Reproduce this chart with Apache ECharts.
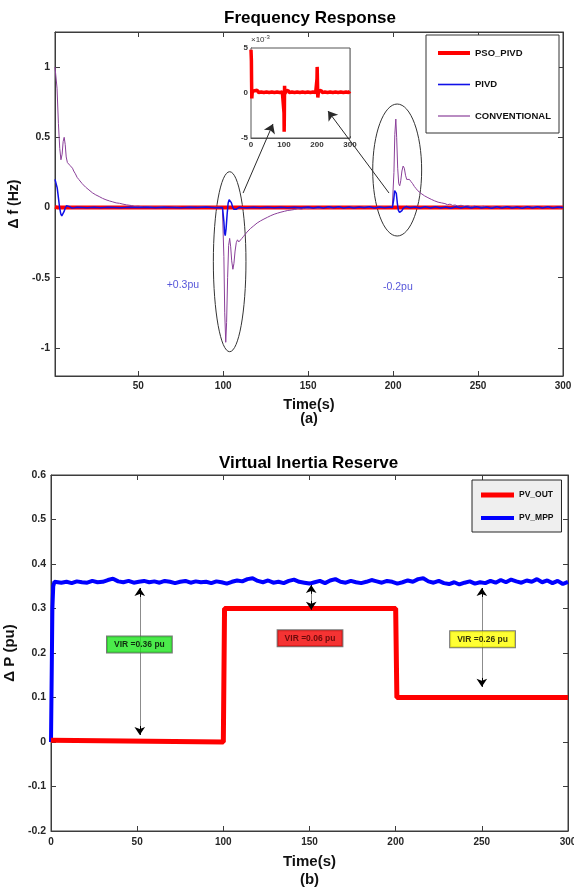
<!DOCTYPE html>
<html>
<head>
<meta charset="utf-8">
<script src="https://cdn.jsdelivr.net/npm/echarts@6/dist/echarts.min.js"></script>
<style>
  html, body { margin: 0; padding: 0; background: #fff; }
  #main { width: 574px; height: 888px; }
</style>
</head>
<body>
<div id="main"></div>
<script>
const FONT = 'Liberation Sans, Arial, sans-serif'
const AX = '#3c3c3c'

// ---- (a) Frequency Response ----
const freqTicksX = [50, 100, 150, 200, 250, 300]
const freqTicksY = [-1, -0.5, 0, 0.5, 1]

const conventional = [
  [1, 1.0], [1.5, 1.01], [2.2, 0.85], [3, 0.6], [3.8, 0.42], [4.5, 0.34], [5.2, 0.38], [5.8, 0.47], [6.4, 0.5], [7, 0.45],
  [7.6, 0.36], [8.3, 0.32], [9, 0.31], [9.8, 0.3], [10.5, 0.31], [11.3, 0.28], [12, 0.26], [13, 0.24], [14, 0.215], [15, 0.2],
  [16, 0.19], [17, 0.17], [18, 0.16], [19, 0.145], [20, 0.135], [21, 0.125], [22, 0.115], [23, 0.105], [24, 0.1], [25, 0.09],
  [26, 0.085], [27, 0.078], [28, 0.07], [29, 0.065], [30, 0.06], [31, 0.055], [32, 0.05], [33, 0.047], [34, 0.042], [35, 0.04],
  [36, 0.035], [37, 0.033], [38, 0.028], [39, 0.03], [40, 0.022], [41, 0.024], [42, 0.017], [43, 0.019], [44, 0.012], [46, 0.014],
  [48, 0.008], [50, 0.01], [53, 0.004], [56, 0.007], [60, 0.002], [64, 0.006], [68, 0.001], [72, 0.005], [76, 0.0], [80, 0.004],
  [84, 0.001], [88, 0.005], [92, 0.0], [96, 0.003], [99.5, 0.001],
  [100, 0], [100.4, -0.35], [100.9, -0.75], [101.5, -0.96], [102, -0.82], [102.6, -0.5], [103.2, -0.27], [103.8, -0.22], [104.4, -0.28], [105, -0.38],
  [105.7, -0.44], [106.3, -0.4], [107, -0.31], [107.7, -0.25], [108.4, -0.23], [109.2, -0.245], [110, -0.235], [111, -0.22], [112, -0.205], [113, -0.19],
  [114, -0.175], [115, -0.165], [116, -0.15], [117, -0.143], [118, -0.13], [119, -0.122], [120, -0.11], [121, -0.105], [122, -0.095], [123, -0.09],
  [124, -0.082], [125, -0.076], [126, -0.07], [127, -0.062], [128, -0.058], [129, -0.052], [130, -0.048], [131, -0.043], [132, -0.04], [133, -0.035],
  [134, -0.033], [135, -0.028], [136, -0.027], [137, -0.022], [138, -0.021], [139, -0.016], [140, -0.018], [141, -0.012], [142, -0.014], [144, -0.008],
  [146, -0.011], [148, -0.005], [150, -0.008], [153, -0.002], [156, -0.006], [160, 0.001], [164, -0.004], [168, 0.003], [172, -0.002], [176, 0.004],
  [180, 0.0], [184, 0.005], [188, -0.002], [192, 0.004], [196, 0.0], [199.5, 0.002],
  [200, 0], [200.5, 0.25], [201, 0.52], [201.6, 0.63], [202.1, 0.5], [202.7, 0.28], [203.3, 0.17], [203.9, 0.155], [204.5, 0.19], [205.2, 0.26],
  [205.9, 0.295], [206.6, 0.28], [207.3, 0.23], [208, 0.2], [208.8, 0.19], [209.6, 0.2], [210.5, 0.185], [211.5, 0.17], [212.5, 0.15], [213.5, 0.135],
  [214.5, 0.12], [215.5, 0.11], [216.5, 0.1], [217.5, 0.09], [218.5, 0.083], [219.5, 0.075], [220.5, 0.07], [221.5, 0.062], [222.5, 0.058], [223.5, 0.05],
  [224.5, 0.047], [225.5, 0.04], [226.5, 0.038], [227.5, 0.032], [228.5, 0.033], [229.5, 0.026], [230.5, 0.028], [232, 0.02], [233.5, 0.024], [235, 0.015],
  [236.5, 0.018], [238, 0.011], [240, 0.016], [242, 0.008], [244, 0.013], [246, 0.004], [248, 0.01], [250, 0.002], [253, 0.009], [256, 0.0],
  [259, 0.006], [262, -0.002], [265, 0.007], [268, 0.0], [271, 0.006], [274, -0.003], [277, 0.005], [280, 0.0], [283, 0.007], [286, -0.003],
  [289, 0.005], [292, -0.002], [295, 0.004], [298, -0.004], [300, 0.0]
]

const pivd = [
  [1, 0.2], [1.6, 0.195], [2.3, 0.14], [3, 0.07], [3.7, 0.0], [4.4, -0.045], [5, -0.06], [5.6, -0.055], [6.3, -0.03], [7, -0.005],
  [7.7, 0.012], [8.4, 0.015], [9.2, 0.008], [10, 0.0], [11, -0.004], [12.5, -0.002], [14, 0.002], [17, 0.0], [20, -0.002], [24, 0.002],
  [28, -0.001], [32, 0.002], [36, 0.0], [40, -0.002], [45, 0.002], [50, 0.0], [55, 0.002], [60, -0.002], [65, 0.002], [70, 0.0],
  [75, -0.002], [80, 0.002], [85, 0.0], [90, 0.003], [95, -0.001], [99.6, 0.0],
  [100, 0], [100.4, -0.1], [100.8, -0.18], [101.2, -0.2], [101.7, -0.15], [102.3, -0.05], [102.9, 0.03], [103.5, 0.055], [104.1, 0.057], [104.8, 0.035],
  [105.5, 0.005], [106.2, -0.012], [107, -0.018], [107.8, -0.012], [108.6, -0.003], [109.5, 0.002], [111, 0.0], [114, -0.002], [118, 0.002], [122, -0.001],
  [126, 0.002], [130, -0.002], [134, 0.001], [138, -0.002], [142, 0.002], [146, -0.001], [150, 0.003], [153, -0.004], [156, 0.004], [159, -0.003],
  [162, 0.005], [165, -0.002], [168, 0.006], [171, -0.003], [174, 0.004], [177, -0.004], [180, 0.003], [183, -0.002], [186, 0.005], [189, -0.003],
  [192, 0.004], [195, -0.002], [198, 0.003], [199.6, 0.0],
  [200, 0], [200.4, 0.06], [200.9, 0.12], [201.4, 0.13], [201.9, 0.1], [202.5, 0.03], [203.1, -0.02], [203.8, -0.035], [204.5, -0.036], [205.2, -0.022],
  [206, -0.005], [206.8, 0.006], [207.6, 0.007], [208.5, 0.002], [210, -0.002], [213, 0.003], [216, -0.004], [219, 0.005], [222, -0.003], [225, 0.006],
  [228, -0.004], [231, 0.004], [234, -0.005], [237, 0.006], [240, -0.003], [243, 0.005], [246, -0.004], [249, 0.006], [252, -0.003], [255, 0.004],
  [258, -0.005], [261, 0.005], [264, -0.003], [267, 0.006], [270, -0.004], [273, 0.004], [276, -0.005], [279, 0.005], [282, -0.003], [285, 0.006],
  [288, -0.004], [291, 0.005], [294, -0.003], [297, 0.004], [300, 0.0]
]

const psoPivd = [
  [1, 0.0045], [1.8, 0.004], [2.6, -0.0005], [4, 0.0002], [99.8, 0.0001], [100.2, -0.0043], [100.8, 0.0008], [101.5, 0.0002],
  [199.8, 0.0001], [200.3, 0.003], [201, -0.0004], [202, 0.0002], [300, 0.0001]
]

// inset, values in 1e-3 Hz
const psoZoom = [
  [0, 4.8], [0.6, 4.6], [1.2, 3.6], [1.8, 1.2], [2.4, -0.6], [3.2, -0.4], [4, 0.2], [7, 0.05], [11, 0.25], [15, 0.1],
  [19, 0.3], [23, 0.05], [27, 0.2], [31, 0.1], [35, 0.3], [39, 0.05], [43, 0.25], [47, 0.1], [51, 0.3], [55, 0.05],
  [59, 0.2], [63, 0.1], [67, 0.3], [71, 0.05], [75, 0.25], [79, 0.1], [83, 0.3], [87, 0.05], [91, 0.2], [95, 0.1],
  [99.4, 0.15], [100, -2.2], [100.5, -4.3], [101.1, -2.4], [101.7, 0.8], [102.4, 0.7], [103.2, -0.1], [104.5, 0.2], [108, 0.1], [112, 0.3],
  [116, 0.05], [120, 0.25], [124, 0.1], [128, 0.3], [132, 0.05], [136, 0.2], [140, 0.1], [144, 0.3], [148, 0.05], [152, 0.25],
  [156, 0.1], [160, 0.3], [164, 0.05], [168, 0.2], [172, 0.1], [176, 0.3], [180, 0.05], [184, 0.25], [188, 0.1], [192, 0.3],
  [196, 0.05], [199.4, 0.15], [200, 1.6], [200.5, 2.9], [201.2, 2.8], [201.8, 0.6], [202.5, -0.5], [203.3, -0.3], [204.5, 0.2], [208, 0.1],
  [212, 0.3], [216, 0.05], [220, 0.25], [224, 0.1], [228, 0.3], [232, 0.05], [236, 0.2], [240, 0.1], [244, 0.3], [248, 0.05],
  [252, 0.25], [256, 0.1], [260, 0.3], [264, 0.05], [268, 0.2], [272, 0.1], [276, 0.3], [280, 0.05], [284, 0.25], [288, 0.1],
  [292, 0.3], [296, 0.05], [300, 0.2]
]

// ellipses: centre t, centre v, half width (s), half height (Hz)
const circles = [[103.8, -0.386, 9.6, 0.641], [202.4, 0.267, 14.4, 0.47]]
const zoomArrows = [[[111.7, 0.103], [129.3, 0.595]], [[197.6, 0.103], [161.7, 0.687]]]
const stepNotes = [['+0.3pu', 76.3, -0.552], ['-0.2pu', 202.8, -0.568]]

// ---- (b) Virtual Inertia Reserve ----
const pvOut = [[0, 0.004], [100, 0.0], [100.7, 0.3], [200, 0.3], [200.7, 0.1], [300, 0.1]]
const pvMpp = [
  [0, 0], [0.4, 0.15], [0.8, 0.3], [1.3, 0.35], [2, 0.36],
  [3, 0.361], [6, 0.358], [9, 0.36], [12, 0.357], [15, 0.361], [18, 0.359], [21, 0.358], [24, 0.362], [27, 0.359], [30, 0.36],
  [33, 0.364], [36, 0.367], [39, 0.361], [42, 0.359], [45, 0.362], [48, 0.358], [51, 0.36], [54, 0.362], [57, 0.359], [60, 0.361],
  [63, 0.358], [66, 0.362], [69, 0.36], [72, 0.357], [75, 0.36], [78, 0.362], [81, 0.358], [84, 0.361], [87, 0.359], [90, 0.36],
  [93, 0.357], [96, 0.361], [99, 0.359], [102, 0.356], [105, 0.36], [108, 0.363], [111, 0.361], [114, 0.366], [117, 0.368], [120, 0.362],
  [123, 0.359], [126, 0.363], [129, 0.358], [132, 0.36], [135, 0.357], [138, 0.362], [141, 0.365], [144, 0.36], [147, 0.358], [150, 0.356],
  [153, 0.359], [156, 0.362], [159, 0.357], [162, 0.363], [165, 0.366], [168, 0.36], [171, 0.358], [174, 0.362], [177, 0.359], [180, 0.357],
  [183, 0.36], [186, 0.364], [189, 0.361], [192, 0.358], [195, 0.362], [198, 0.36], [201, 0.356], [204, 0.359], [207, 0.363], [210, 0.36],
  [213, 0.366], [216, 0.368], [219, 0.361], [222, 0.358], [225, 0.362], [228, 0.357], [231, 0.355], [234, 0.359], [237, 0.354], [240, 0.358],
  [243, 0.361], [246, 0.356], [249, 0.359], [252, 0.357], [255, 0.362], [258, 0.358], [261, 0.364], [264, 0.359], [267, 0.365], [270, 0.361],
  [273, 0.358], [276, 0.363], [279, 0.36], [282, 0.366], [285, 0.359], [288, 0.363], [291, 0.357], [294, 0.362], [297, 0.355], [300, 0.36]
]
// arrow: t, upper tip, lower tip
const virArrows = [[51.5, 0.346, 0.016], [151, 0.353, 0.297], [250, 0.346, 0.124]]
const virNotes = [['VIR =0.36 pu', 51.3, 0.219], ['VIR =0.06 pu', 150.3, 0.233], ['VIR =0.26 pu', 250.4, 0.231]]
const virFill = ['#1ee61e', '#f20000', '#ffff00']
const virText = ['#000', '#4a0000', '#000']

const chart = echarts.init(document.getElementById('main'))

const lbl = (size, extra) => Object.assign({ fontFamily: FONT, fontSize: size, fontWeight: 'bold', color: '#262626' }, extra || {})

function xAx(grid, pos, opt) {
  return Object.assign({
    gridIndex: grid, type: 'value', position: pos,
    axisLine: { show: true, onZero: false, lineStyle: { color: AX } },
    axisTick: { show: true, inside: true, length: 5, lineStyle: { color: AX } },
    axisLabel: { show: false },
    splitLine: { show: false }
  }, opt)
}

// arrow heads black, shafts grey
const virMarks = []
virArrows.forEach(([t, hi, lo]) => {
  virMarks.push([{ coord: [t, hi], lineStyle: { color: '#8c8c8c', width: 1, type: 'solid' } }, { coord: [t, lo] }])
  virMarks.push([{ coord: [t, hi - 0.02], lineStyle: { color: '#000', width: 1, type: 'solid' } }, { coord: [t, hi], symbol: 'arrow' }])
  virMarks.push([{ coord: [t, lo + 0.02], lineStyle: { color: '#000', width: 1, type: 'solid' } }, { coord: [t, lo], symbol: 'arrow' }])
})

chart.setOption({
  animation: false,
  title: [
    { text: 'Frequency Response', left: 224, top: 10, padding: 0, textStyle: { fontFamily: FONT, fontSize: 17, fontWeight: 'bold', color: '#000' } },
    { text: 'Virtual Inertia Reserve', left: 219, top: 455, padding: 0, textStyle: { fontFamily: FONT, fontSize: 17, fontWeight: 'bold', color: '#000' } }
  ],
  legend: [
    {
      left: 426, top: 35, orient: 'vertical', selectedMode: false,
      padding: [13, 8, 12, 12], itemGap: 21.5, itemWidth: 32, itemHeight: 10,
      borderColor: '#333', borderWidth: 1, backgroundColor: '#fff',
      itemStyle: { borderWidth: 0 },
      textStyle: lbl(9.5, { color: '#111', lineHeight: 10 }),
      data: [
        { name: 'PSO_PIVD', icon: 'path://M0,0H32V4H0Z' },
        { name: 'PIVD', icon: 'path://M0,0H32V1.6H0Z' },
        { name: 'CONVENTIONAL', icon: 'path://M0,0H32V1.2H0Z' }
      ]
    },
    {
      left: 472, top: 480, orient: 'vertical', selectedMode: false,
      padding: [10, 8, 9, 9], itemGap: 13, itemWidth: 33, itemHeight: 10,
      borderColor: '#262626', borderWidth: 1, backgroundColor: '#efefef',
      itemStyle: { borderWidth: 0 },
      textStyle: lbl(8.5, { color: '#111', lineHeight: 10 }),
      data: [
        { name: 'PV_OUT', icon: 'path://M0,0H33V5H0Z' },
        { name: 'PV_MPP', icon: 'path://M0,0H33V4H0Z' }
      ]
    }
  ],
  grid: [
    { left: 55, top: 32, width: 508, height: 344, show: true, borderColor: AX, borderWidth: 1, containLabel: false, outerBoundsMode: 'none' },
    { left: 251, top: 48, width: 99, height: 90, show: true, backgroundColor: '#fff', borderColor: '#555', borderWidth: 1, containLabel: false, outerBoundsMode: 'none', z: 3 },
    { left: 51, top: 475, width: 517, height: 356, show: true, borderColor: AX, borderWidth: 1, containLabel: false, outerBoundsMode: 'none' }
  ],
  xAxis: [
    xAx(0, 'bottom', {
      min: 1, max: 300,
      axisTick: { show: true, inside: true, length: 5, lineStyle: { color: AX }, customValues: freqTicksX },
      axisLabel: lbl(10, { show: true, margin: 5, customValues: freqTicksX }),
      name: '{t|Time(s)}\n{s|(a)}', nameLocation: 'middle', nameGap: 21,
      nameTextStyle: { rich: { t: lbl(14.5, { color: '#111', lineHeight: 16 }), s: lbl(14.5, { color: '#111', lineHeight: 12 }) } }
    }),
    xAx(0, 'top', {
      min: 1, max: 300,
      axisTick: { show: true, inside: true, length: 5, lineStyle: { color: AX }, customValues: freqTicksX },
      axisLabel: { show: false, customValues: freqTicksX }
    }),
    xAx(1, 'bottom', {
      min: 0, max: 300, interval: 100,
      axisLine: { show: true, onZero: false, lineStyle: { color: '#555' } },
      axisTick: { show: true, inside: true, length: 2, lineStyle: { color: '#555' } },
      axisLabel: lbl(8, { show: true, margin: 3, color: '#333' }),
      splitLine: { show: true, lineStyle: { color: '#d4d4d4', width: 1 } }
    }),
    xAx(2, 'bottom', {
      min: 0, max: 300, interval: 50,
      axisLabel: lbl(10, { show: true, margin: 6 }),
      name: '{t|Time(s)}\n{s|(b)}', nameLocation: 'middle', nameGap: 22,
      nameTextStyle: { rich: { t: lbl(15, { color: '#111', lineHeight: 18 }), s: lbl(15, { color: '#111', lineHeight: 18 }) } }
    }),
    xAx(2, 'top', { min: 0, max: 300, interval: 50 })
  ],
  yAxis: [
    xAx(0, 'left', {
      min: -1.2, max: 1.25,
      axisTick: { show: true, inside: true, length: 5, lineStyle: { color: AX }, customValues: freqTicksY },
      axisLabel: lbl(10.5, { show: true, margin: 5, customValues: freqTicksY }),
      name: 'Δ f (Hz)', nameLocation: 'middle', nameGap: 25,
      nameTextStyle: lbl(14, { color: '#111' })
    }),
    xAx(0, 'right', {
      min: -1.2, max: 1.25,
      axisTick: { show: true, inside: true, length: 5, lineStyle: { color: AX }, customValues: freqTicksY },
      axisLabel: { show: false, customValues: freqTicksY }
    }),
    xAx(1, 'left', {
      min: -5, max: 5, interval: 5,
      axisLine: { show: true, onZero: false, lineStyle: { color: '#555' } },
      axisTick: { show: true, inside: true, length: 2, lineStyle: { color: '#555' } },
      axisLabel: lbl(8, { show: true, margin: 3, color: '#333' }),
      name: '×10{s|-3}', nameLocation: 'end', nameGap: 1,
      nameTextStyle: { fontFamily: FONT, fontSize: 8, color: '#333', align: 'left', rich: { s: { fontFamily: FONT, fontSize: 6, color: '#333', padding: [0, 0, 6, 0] } } }
    }),
    xAx(2, 'left', {
      min: -0.2, max: 0.6, interval: 0.1,
      axisLabel: lbl(10.5, { show: true, margin: 5 }),
      name: 'Δ P (pu)', nameLocation: 'middle', nameGap: 26,
      nameTextStyle: lbl(15, { color: '#111' })
    }),
    xAx(2, 'right', { min: -0.2, max: 0.6, interval: 0.1 })
  ],
  series: [
    {
      name: 'PSO_PIVD', type: 'line', xAxisIndex: 0, yAxisIndex: 0, data: psoPivd,
      showSymbol: false, symbol: 'none', silent: true,
      itemStyle: { color: '#ff0000' }, lineStyle: { color: '#ff0000', width: 4 }
    },
    {
      name: 'CONVENTIONAL', type: 'line', xAxisIndex: 0, yAxisIndex: 0, data: conventional,
      showSymbol: false, symbol: 'none', silent: true,
      itemStyle: { color: '#8a3f99' }, lineStyle: { color: '#8a3f99', width: 1 },
      markLine: {
        silent: true, symbol: ['none', 'arrow'], symbolSize: 9,
        label: { show: false },
        lineStyle: { color: '#2a2a2a', width: 1, type: 'solid' },
        emphasis: { disabled: true },
        data: zoomArrows.map(([a, b]) => [{ coord: a }, { coord: b }])
      }
    },
    {
      name: 'PIVD', type: 'line', xAxisIndex: 0, yAxisIndex: 0, data: pivd,
      showSymbol: false, symbol: 'none', silent: true,
      itemStyle: { color: '#1010e8' }, lineStyle: { color: '#1010e8', width: 1.5 }
    },
    {
      name: 'circles', type: 'custom', xAxisIndex: 0, yAxisIndex: 0, silent: true,
      data: circles, encode: { x: 0, y: 1 },
      renderItem: (params, api) => {
        const c = api.coord([api.value(0), api.value(1)])
        const s = api.size([api.value(2), api.value(3)])
        return {
          type: 'ellipse',
          shape: { cx: c[0], cy: c[1], rx: s[0], ry: s[1] },
          style: { fill: 'none', stroke: '#333', lineWidth: 1 }
        }
      }
    },
    {
      name: 'notes', type: 'scatter', xAxisIndex: 0, yAxisIndex: 0, silent: true,
      symbolSize: 1, itemStyle: { color: 'transparent' },
      data: stepNotes.map(([txt, t, v]) => ({ name: txt, value: [t, v] })),
      label: { show: true, position: 'inside', formatter: '{b}', fontFamily: FONT, fontSize: 10.5, color: '#2b2bd0' }
    },
    {
      name: 'PSO_PIVD zoom', type: 'line', xAxisIndex: 2, yAxisIndex: 2, data: psoZoom, z: 4,
      showSymbol: false, symbol: 'none', silent: true,
      itemStyle: { color: '#ff0000' }, lineStyle: { color: '#ff0000', width: 3.5 }
    },
    {
      name: 'PV_MPP', type: 'line', xAxisIndex: 3, yAxisIndex: 3, data: pvMpp,
      showSymbol: false, symbol: 'none', silent: true,
      itemStyle: { color: '#0000ff' }, lineStyle: { color: '#0000ff', width: 4 }
    },
    {
      name: 'PV_OUT', type: 'line', xAxisIndex: 3, yAxisIndex: 3, data: pvOut,
      showSymbol: false, symbol: 'none', silent: true,
      itemStyle: { color: '#ff0000' }, lineStyle: { color: '#ff0000', width: 5 },
      markLine: {
        silent: true, symbol: ['none', 'none'], symbolSize: 8,
        label: { show: false },
        lineStyle: { type: 'solid', width: 1 },
        emphasis: { disabled: true },
        data: virMarks
      }
    },
    {
      name: 'vir', type: 'scatter', xAxisIndex: 3, yAxisIndex: 3, silent: true, z: 5,
      symbolSize: 1, itemStyle: { color: 'transparent' },
      data: virNotes.map(([txt, t, v], i) => ({
        name: txt, value: [t, v],
        label: { backgroundColor: virFill[i], color: virText[i] }
      })),
      label: {
        show: true, position: 'inside', formatter: '{b}',
        fontFamily: FONT, fontSize: 8.5, fontWeight: 'bold',
        borderColor: '#555', borderWidth: 1, padding: [4, 7, 3, 7]
      }
    }
  ]
})
</script>
</body>
</html>
